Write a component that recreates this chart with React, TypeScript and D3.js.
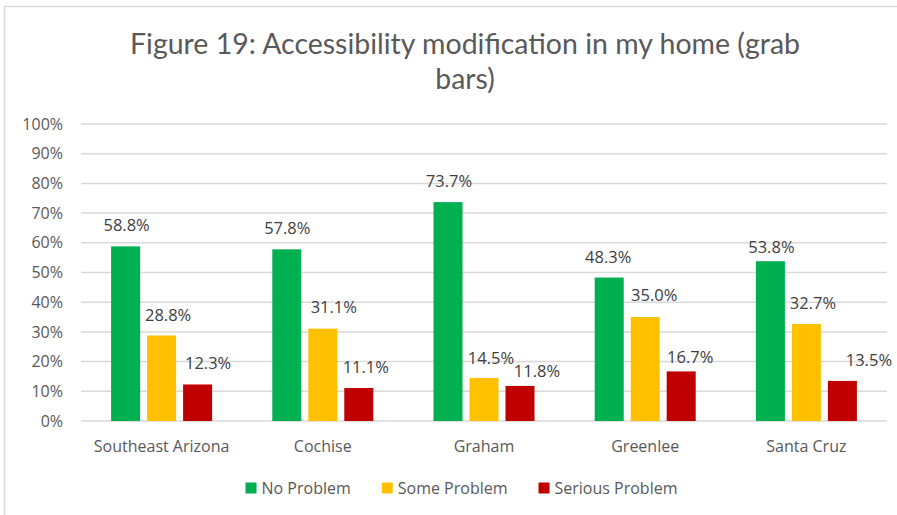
import React, { useMemo } from "react";
import * as d3 from "d3";

const categories = ["Southeast Arizona", "Cochise", "Graham", "Greenlee", "Santa Cruz"];
const seriesNames = ["No Problem", "Some Problem", "Serious Problem"];
const noProblem = [0.588, 0.578, 0.737, 0.483, 0.538];
const someProblem = [0.288, 0.311, 0.145, 0.35, 0.327];
const seriousProblem = [0.123, 0.111, 0.118, 0.167, 0.135];
const yTicks = [0, 0.1, 0.2, 0.3, 0.4, 0.5, 0.6, 0.7, 0.8, 0.9, 1.0];
const titleLines = ["Figure 19: Accessibility modification in my home (grab", "bars)"];

// label nudges [dx from bar centre, gap above bar top] per category x series
const labelNudges = [
  [[1, 15], [6.5, 14], [10.5, 15.5]],
  [[0.5, 15], [11, 15.7], [7, 15]],
  [[1, 14.7], [7, 14], [17, 8.7]],
  [[-1, 14.3], [9, 15.6], [9, 8.4]],
  [[1, 8], [6.6, 14.7], [26.5, 15]],
];

const colors = ["#00B050", "#FFC000", "#C00000"];
const W = 897;
const H = 515;
const FONT = "'Open Sans', 'DejaVu Sans', sans-serif";
const TITLE_FONT = "Lato, 'Open Sans', sans-serif";
const TITLE_SIZE = 28;
const TITLE_LINE1_WIDTH = 670;

export default function App() {
  const seriesValues = [noProblem, someProblem, seriousProblem];
  const x0 = d3.scaleBand<string>().domain(categories).range([81, 887]).paddingInner(0).paddingOuter(0);
  const bw = x0.bandwidth();
  const x1 = d3
    .scaleBand<string>()
    .domain(seriesNames)
    .range([bw / 2 - 50.5, bw / 2 + 50.5])
    .paddingInner(0.194)
    .paddingOuter(0);
  const y = d3.scaleLinear().domain([0, 1]).range([421, 124]);
  const fmt = d3.format(".1%");
  const tickFmt = d3.format(".0%");

  const { legendLayout, titleWidths } = useMemo(() => {
    const canvas = document.createElement("canvas");
    const ctx = canvas.getContext("2d")!;
    ctx.font = `16px ${FONT}`;
    const widths = seriesNames.map((s) => ctx.measureText(s).width);
    const sq = 11, gapText = 5, gapItem = 31;
    const total = widths.reduce((a, w) => a + sq + gapText + w, 0) + gapItem * (seriesNames.length - 1);
    const centre = 461.5;
    let xPos = centre - total / 2;
    const items = widths.map((w) => {
      const item = { x: xPos, w };
      xPos += sq + gapText + w + gapItem;
      return item;
    });
    ctx.font = `${TITLE_SIZE}px ${TITLE_FONT}`;
    const tw = titleLines.map((t) => ctx.measureText(t).width);
    return { legendLayout: items, titleWidths: tw };
  }, []);

  const squeeze = TITLE_LINE1_WIDTH / (titleWidths[0] || TITLE_LINE1_WIDTH);

  return (
    <svg width={W} height={H} style={{ display: "block", position: "absolute", left: 0, top: 0 }}>
      <rect x={0} y={0} width={W} height={H} fill="#ffffff" />
      <rect x={4.5} y={6.5} width={W + 20} height={H + 20} fill="none" stroke="#d9d9d9" strokeWidth={1.5} />
      {titleLines.map((t, i) => (
        <text
          key={i}
          x={465}
          y={53.5 + i * 35}
          textAnchor="middle"
          fontFamily={TITLE_FONT}
          fontSize={TITLE_SIZE}
          fill="#595959"
          textLength={titleWidths[i] ? titleWidths[i] * squeeze : undefined}
          lengthAdjust="spacingAndGlyphs"
        >
          {t}
        </text>
      ))}
      {yTicks.map((t) => (
        <g key={t}>
          <line x1={81} x2={887} y1={y(t)} y2={y(t)} stroke="#d9d9d9" strokeWidth={1.5} />
          <text x={63} y={y(t)} dy="0.35em" textAnchor="end" fontFamily={FONT} fontSize={16} fill="#595959">
            {tickFmt(t)}
          </text>
        </g>
      ))}
      {categories.map((c, ci) => (
        <g key={c} transform={`translate(${x0(c)},0)`}>
          {seriesNames.map((s, si) => {
            const v = seriesValues[si][ci];
            const bx = x1(s)!;
            const [dx, gap] = labelNudges[ci][si];
            return (
              <g key={s}>
                <rect x={bx} y={y(v)} width={x1.bandwidth()} height={y(0) - y(v)} fill={colors[si]} />
                <text
                  x={bx + x1.bandwidth() / 2 + dx}
                  y={y(v) - gap}
                  textAnchor="middle"
                  fontFamily={FONT}
                  fontSize={16.5}
                  fill="#404040"
                >
                  {fmt(v)}
                </text>
              </g>
            );
          })}
          <text x={bw / 2} y={451.5} textAnchor="middle" fontFamily={FONT} fontSize={16} fill="#595959">
            {c}
          </text>
        </g>
      ))}
      {seriesNames.map((s, si) => (
        <g key={s} transform={`translate(${legendLayout[si].x},0)`}>
          <rect x={0} y={482.5} width={11} height={11} fill={colors[si]} />
          <text x={16} y={493.5} fontFamily={FONT} fontSize={16} fill="#595959">
            {s}
          </text>
        </g>
      ))}
    </svg>
  );
}
